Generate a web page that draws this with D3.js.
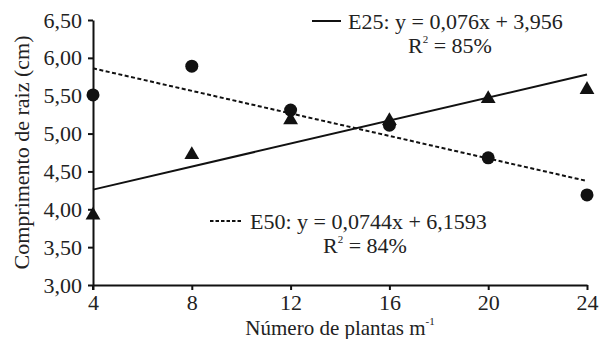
<!DOCTYPE html>
<html><head><meta charset="utf-8">
<script src="https://cdn.jsdelivr.net/npm/d3@7"></script>
</head>
<body style="margin:0">
<svg id="chart" width="599" height="339" font-family="Liberation Serif"></svg>
<script>
// plant densities (plants per m)
const densities = [4, 8, 12, 16, 20, 24];
// root length, E25 (triangles) and E50 (circles)
const e25Values = [3.92, 4.72, 5.18, 5.17, 5.46, 5.58];
const e50Values = [5.51, 5.89, 5.31, 5.11, 4.68, 4.19];
// regression lines, [slope, intercept]
const e25Fit = [0.076, 3.956];
const e50Fit = [-0.0744, 6.1593];
const yTicks = [3.0, 3.5, 4.0, 4.5, 5.0, 5.5, 6.0, 6.5];

const width = 599, height = 339;
const margin = {top: 20, right: 12, bottom: 54, left: 93};

const svg = d3.select("#chart");

const x = d3.scaleLinear().domain([4, 24]).range([margin.left, width - margin.right]);
const y = d3.scaleLinear().domain([3, 6.5]).range([height - margin.bottom, margin.top]);

const fmt = d => d.toFixed(2).replace(".", ",");

// axes
const xAxis = svg.append("g")
    .attr("transform", `translate(0,${height - margin.bottom})`)
    .call(d3.axisBottom(x).tickValues(densities).tickSize(5).tickPadding(4).tickSizeOuter(0));
const yAxis = svg.append("g")
    .attr("transform", `translate(${margin.left},0)`)
    .call(d3.axisLeft(y).tickValues(yTicks).tickFormat(fmt).tickSize(5).tickPadding(6).tickSizeOuter(0));

[xAxis, yAxis].forEach(g => {
    g.attr("font-family", "Liberation Serif").attr("font-size", 22);
    g.select(".domain").attr("stroke", "#111").attr("stroke-width", 2);
    g.selectAll(".tick line").attr("stroke", "#111").attr("stroke-width", 2);
    g.selectAll(".tick text")
        .attr("font-family", "Liberation Serif")
        .attr("font-size", 22)
        .attr("fill", "#222");
});
// y axis line continues a bit below the x axis
yAxis.append("line")
    .attr("y1", y(3)).attr("y2", y(3) + 5)
    .attr("stroke", "#111").attr("stroke-width", 2);

// regression lines
const line = d3.line().x(d => x(d[0])).y(d => y(d[1]));
const fitPts = f => [4, 24].map(v => [v, f[0] * v + f[1]]);

svg.append("path")
    .datum(fitPts(e25Fit))
    .attr("d", line)
    .attr("fill", "none")
    .attr("stroke", "#111")
    .attr("stroke-width", 2);

svg.append("path")
    .datum(fitPts(e50Fit))
    .attr("d", line)
    .attr("fill", "none")
    .attr("stroke", "#111")
    .attr("stroke-width", 2)
    .attr("stroke-dasharray", "4,2.5");

// points
svg.append("g")
    .selectAll("circle")
    .data(densities.map((d, i) => [d, e50Values[i]]))
    .join("circle")
    .attr("cx", d => x(d[0]))
    .attr("cy", d => y(d[1]))
    .attr("r", 6.5)
    .attr("fill", "#111");

const tri = d3.symbol().type(d3.symbolTriangle).size(95);
svg.append("g")
    .selectAll("path")
    .data(densities.map((d, i) => [d, e25Values[i]]))
    .join("path")
    .attr("d", tri)
    .attr("transform", d => `translate(${x(d[0])},${y(d[1])})`)
    .attr("fill", "#111");

// legend / equations
function equation(lx, lw, tx, ly, dashed, label, r2) {
    const g = svg.append("g");
    g.append("line")
        .attr("x1", lx).attr("x2", lx + lw)
        .attr("y1", ly - 8).attr("y2", ly - 8)
        .attr("stroke", "#111")
        .attr("stroke-width", 2)
        .attr("stroke-dasharray", dashed ? "3.5,2" : null);
    g.append("text")
        .attr("x", tx)
        .attr("y", ly)
        .attr("font-family", "Liberation Serif")
        .attr("font-size", 22)
        .attr("fill", "#222")
        .text(label);
    const t = g.append("text")
        .attr("x", r2[0])
        .attr("y", ly + 24)
        .attr("font-family", "Liberation Serif")
        .attr("font-size", 22)
        .attr("fill", "#222");
    t.append("tspan").text("R");
    t.append("tspan").attr("dy", -10).attr("font-size", 11).text("2");
    t.append("tspan").attr("dy", 10).text(" = " + r2[1]);
}
equation(312, 29, 348, 29, false, "E25: y = 0,076x + 3,956", [408, "85%"]);
equation(210, 32, 250, 229, true, "E50: y = 0,0744x + 6,1593", [323, "84%"]);

// axis titles
svg.append("text")
    .attr("transform", `translate(29,${(margin.top + height - margin.bottom) / 2}) rotate(-90)`)
    .attr("text-anchor", "middle")
    .attr("font-family", "Liberation Serif")
    .attr("font-size", 22)
    .attr("fill", "#222")
    .text("Comprimento de raiz (cm)");

const xt = svg.append("text")
    .attr("x", 340)
    .attr("y", 335)
    .attr("text-anchor", "middle")
    .attr("font-family", "Liberation Serif")
    .attr("font-size", 21)
    .attr("fill", "#222");
xt.append("tspan").text("Número de plantas m");
xt.append("tspan").attr("dy", -10).attr("font-size", 11).text("-1");
</script>
</body></html>
